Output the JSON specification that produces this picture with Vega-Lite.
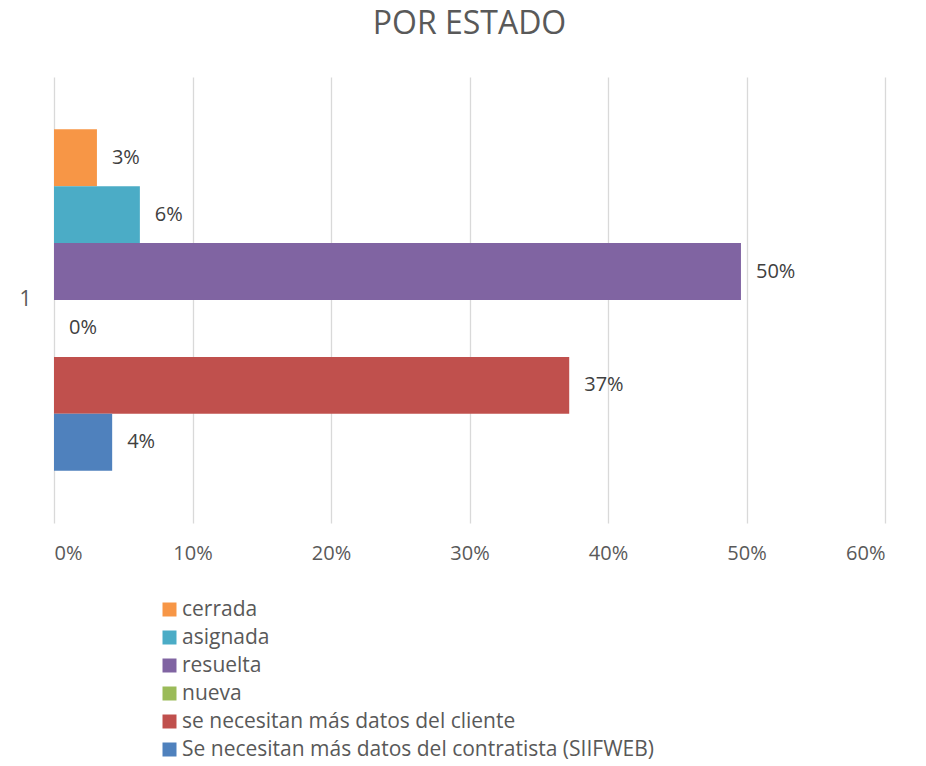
{
  "$schema": "https://vega.github.io/schema/vega-lite/v6.json",
  "width": 831,
  "height": 446,
  "autosize": {"type": "none"},
  "padding": {"left": 54, "top": 77, "right": 41, "bottom": 243},
  "background": "white",
  "title": {
    "text": "POR ESTADO",
    "font": "Open Sans",
    "fontSize": 32,
    "fontWeight": "normal",
    "color": "#595959",
    "baseline": "alphabetic",
    "offset": 11,
    "anchor": "middle"
  },
  "config": {
    "view": {"stroke": null},
    "font": "Open Sans"
  },
  "data": {
    "values": [
      {"cat": "1", "estado": "cerrada", "pct": 0.031},
      {"cat": "1", "estado": "asignada", "pct": 0.062},
      {"cat": "1", "estado": "resuelta", "pct": 0.496},
      {"cat": "1", "estado": "nueva", "pct": 0.0},
      {"cat": "1", "estado": "se necesitan más datos del cliente", "pct": 0.372},
      {"cat": "1", "estado": "Se necesitan más datos del contratista (SIIFWEB)", "pct": 0.042}
    ]
  },
  "encoding": {
    "y": {
      "field": "cat",
      "type": "nominal",
      "scale": {"paddingInner": 0, "paddingOuter": 0.153},
      "axis": {
        "title": null,
        "domain": false,
        "ticks": false,
        "grid": false,
        "labelPadding": 23,
        "labelFont": "Open Sans",
        "labelFontSize": 21,
        "labelColor": "#595959"
      }
    },
    "yOffset": {
      "field": "estado",
      "type": "nominal",
      "sort": ["cerrada", "asignada", "resuelta", "nueva", "se necesitan más datos del cliente", "Se necesitan más datos del contratista (SIIFWEB)"],
      "scale": {"paddingInner": 0, "paddingOuter": 0}
    },
    "x": {
      "field": "pct",
      "type": "quantitative",
      "scale": {"domain": [0, 0.6], "nice": false},
      "axis": {
        "title": null,
        "format": ".0%",
        "values": [0, 0.1, 0.2, 0.3, 0.4, 0.5, 0.6],
        "domain": false,
        "ticks": false,
        "tickSize": 0,
        "labelPadding": 20,
        "labelFont": "Open Sans",
        "labelFontSize": 20,
        "labelColor": "#595959",
        "grid": true,
        "gridColor": "#d9d9d9",
        "gridWidth": 1.3
      }
    }
  },
  "layer": [
    {
      "mark": {"type": "bar"},
      "encoding": {
        "color": {
          "field": "estado",
          "type": "nominal",
          "sort": ["cerrada", "asignada", "resuelta", "nueva", "se necesitan más datos del cliente", "Se necesitan más datos del contratista (SIIFWEB)"],
          "scale": {
            "domain": ["cerrada", "asignada", "resuelta", "nueva", "se necesitan más datos del cliente", "Se necesitan más datos del contratista (SIIFWEB)"],
            "range": ["#F79646", "#4BACC6", "#8064A2", "#9BBB59", "#C0504D", "#4F81BD"]
          },
          "legend": {
            "title": null,
            "orient": "none",
            "legendX": 105,
            "legendY": 522,
            "direction": "vertical",
            "padding": 0,
            "symbolType": "square",
            "symbolSize": 196,
            "symbolStrokeWidth": 0,
            "symbolOpacity": 1,
            "labelFont": "Open Sans",
            "labelFontSize": 21,
            "labelColor": "#595959",
            "labelOffset": 2,
            "labelLimit": 600,
            "rowPadding": 6
          }
        }
      }
    },
    {
      "mark": {"type": "text", "align": "left", "baseline": "middle", "dx": 15, "font": "Open Sans", "fontSize": 20, "color": "#404040"},
      "encoding": {
        "text": {"field": "pct", "type": "quantitative", "format": ".0%"}
      }
    }
  ]
}
